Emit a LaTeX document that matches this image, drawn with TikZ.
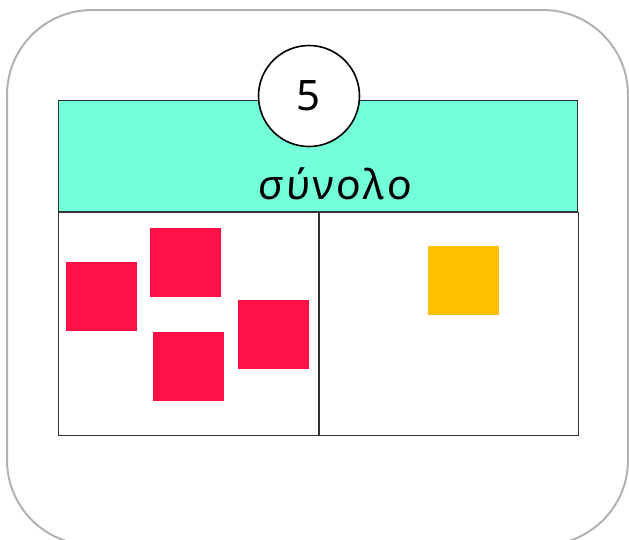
\documentclass[tikz,border=0pt]{standalone}
\usepackage{fontspec}
\setmainfont{Noto Sans}
\newfontfamily\titlefont[FakeSlant=0.08,LetterSpace=7]{Noto Sans}
\usepackage{tikz}
\usetikzlibrary{positioning}
\definecolor{headfill}{RGB}{115,255,215}
\definecolor{redcard}{RGB}{255,17,72}
\definecolor{yellowcard}{RGB}{255,192,0}
\definecolor{framegray}{RGB}{178,178,178}
\definecolor{linegray}{RGB}{50,50,50}

\begin{document}
\begin{tikzpicture}[x=1pt,y=-1pt,
	card/.style={shape=rectangle,inner sep=0pt,minimum width=71pt,minimum height=69pt,anchor=north west},
	cell/.style={shape=rectangle,draw=linegray,line width=1.1pt,inner sep=0pt,anchor=north west}]
		\useasboundingbox (0,0) rectangle (629,539);
		\draw[framegray,line width=2pt,rounded corners=85pt] (7,10) rectangle (628,545);
		% table
		\node(head) [cell,fill=headfill,minimum width=519pt,minimum height=111pt] at (58,100) {};
		\node(left) [cell,minimum width=260pt,minimum height=223pt] at (head.south west) {};
		\node(right) [cell,minimum width=259pt,minimum height=223pt,right=0 of left.north east,anchor=north west] {};
		\node(title) at (334,184) {\titlefont\fontsize{41}{44}\selectfont σύνολο};
		\node(num) [shape=circle,draw,fill=white,line width=1.6pt,minimum size=101pt,inner sep=0pt] at (309,96) {\fontsize{42}{44}\selectfont 5};
		% cards
		\node(r1) [card,fill=redcard] at (66,262) {};
		\node(r2) [card,fill=redcard] at (150,228) {};
		\node(r3) [card,fill=redcard] at (153,332) {};
		\node(r4) [card,fill=redcard] at (238,300) {};
		\node(y1) [card,fill=yellowcard] at (428,246) {};
	\end{tikzpicture}
\end{document}
